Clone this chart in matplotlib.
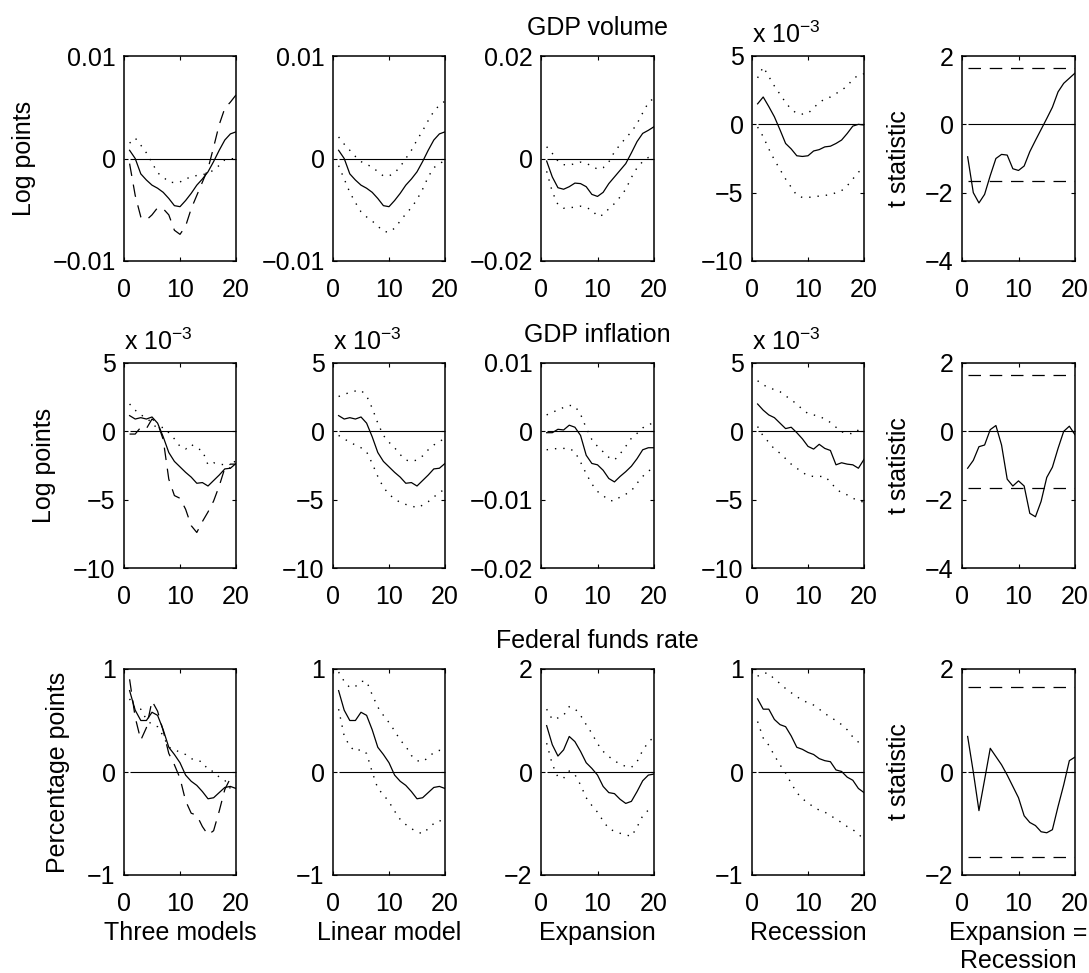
import numpy as np
import matplotlib
matplotlib.use('Agg')
import matplotlib.pyplot as plt
from matplotlib.ticker import FuncFormatter

plt.rcParams['font.family'] = ['Liberation Sans', 'DejaVu Sans']
plt.rcParams['mathtext.default'] = 'regular'
plt.rcParams['font.size'] = 18

horizon = np.arange(1, 21)
t_crit = 1.645

# GDP volume (log points)
vol_lin = [0.0008, 0.0000, -0.0015, -0.0021, -0.0026, -0.0029, -0.0033, -0.0039, -0.0046, -0.0047,
           -0.0041, -0.0034, -0.0026, -0.0020, -0.0013, -0.0003, 0.0008, 0.0018, 0.0024, 0.0026]
vol_lin_hi = [0.0021, 0.0014, 0.0008, 0.0002, -0.0003, -0.0006, -0.0008, -0.0013, -0.0017, -0.0017,
              -0.0014, -0.0008, 0.0000, 0.0008, 0.0018, 0.0027, 0.0037, 0.0046, 0.0052, 0.0056]
vol_lin_lo = [-0.0007, -0.0020, -0.0033, -0.0043, -0.0052, -0.0057, -0.0061, -0.0066, -0.0071, -0.0072,
              -0.0068, -0.0061, -0.0054, -0.0048, -0.0040, -0.0030, -0.0018, -0.0009, -0.0005, -0.0002]
vol_exp = [-0.0005, -0.0036, -0.0057, -0.0060, -0.0055, -0.0048, -0.0049, -0.0055, -0.0070, -0.0074,
           -0.0066, -0.0049, -0.0036, -0.0023, -0.0010, 0.0011, 0.0033, 0.0049, 0.0055, 0.0062]
vol_exp_hi = [0.0023, 0.0010, -0.0005, -0.0012, -0.0013, -0.0010, -0.0007, -0.0010, -0.0014, -0.0021,
              -0.0018, -0.0007, 0.0013, 0.0027, 0.0040, 0.0052, 0.0068, 0.0089, 0.0109, 0.0118]
vol_exp_lo = [-0.0025, -0.0065, -0.0090, -0.0097, -0.0096, -0.0095, -0.0093, -0.0096, -0.0100, -0.0113,
              -0.0110, -0.0098, -0.0088, -0.0075, -0.0060, -0.0037, -0.0018, -0.0006, 0.0002, 0.0007]
vol_rec = np.array([1.5, 2.0, 1.3, 0.55, -0.4, -1.4, -1.8, -2.3, -2.35, -2.3,
                    -1.95, -1.85, -1.65, -1.6, -1.4, -1.15, -0.67, -0.13, 0.0, -0.05]) * 1e-3
vol_rec_hi = np.array([3.4, 4.2, 3.5, 2.8, 2.2, 1.6, 1.1, 0.8, 0.75, 0.8,
                       1.2, 1.6, 1.85, 2.0, 2.25, 2.5, 2.8, 3.3, 3.6, 3.7]) * 1e-3
vol_rec_lo = np.array([-0.2, -0.9, -1.8, -2.6, -3.3, -4.0, -4.6, -5.2, -5.35, -5.35,
                       -5.3, -5.25, -5.2, -5.15, -5.0, -4.85, -4.5, -4.0, -3.5, -3.2]) * 1e-3
vol_t = [-0.95, -2.0, -2.3, -2.05, -1.5, -1.0, -0.88, -0.9, -1.3, -1.35,
         -1.22, -0.8, -0.47, -0.15, 0.17, 0.5, 0.95, 1.2, 1.35, 1.5]

# GDP inflation (log points)
inf_lin = np.array([1.15, 0.9, 1.0, 0.9, 1.05, 0.6, -0.4, -1.55, -2.2, -2.6,
                    -3.0, -3.35, -3.8, -3.75, -4.0, -3.6, -3.2, -2.75, -2.7, -2.35]) * 1e-3
inf_lin_hi = np.array([2.55, 2.7, 2.85, 2.95, 3.0, 2.6, 1.7, 0.6, -0.3, -0.8,
                       -1.2, -1.7, -2.1, -2.2, -2.1, -1.8, -1.35, -1.0, -0.75, -0.5]) * 1e-3
inf_lin_lo = np.array([-0.3, -0.55, -0.8, -1.0, -1.2, -1.5, -2.35, -3.3, -4.1, -4.6,
                       -4.95, -5.2, -5.35, -5.45, -5.6, -5.4, -5.15, -4.8, -4.5, -4.2]) * 1e-3
inf_exp = [-0.0002, -0.0002, 0.0003, 0.0002, 0.0009, 0.0006, -0.0006, -0.0035, -0.0047, -0.0049,
           -0.0057, -0.0069, -0.0074, -0.0066, -0.0059, -0.0051, -0.0040, -0.0027, -0.0024, -0.0024]
inf_exp_hi = [0.0024, 0.0028, 0.0031, 0.0035, 0.0038, 0.0037, 0.0025, 0.0005, -0.0012, -0.0022,
              -0.0030, -0.0038, -0.0042, -0.0033, -0.0022, -0.0010, -0.0003, 0.0005, 0.0010, 0.0012]
inf_exp_lo = [-0.0027, -0.0026, -0.0025, -0.0025, -0.0025, -0.0030, -0.0045, -0.0062, -0.0077, -0.0088,
              -0.0094, -0.0101, -0.0102, -0.0096, -0.0092, -0.0087, -0.0076, -0.0066, -0.0058, -0.0054]
inf_rec = np.array([2.0, 1.55, 1.2, 1.0, 0.6, 0.2, 0.3, -0.1, -0.55, -1.1,
                    -1.3, -0.95, -1.25, -1.4, -2.45, -2.3, -2.4, -2.45, -2.7, -2.05]) * 1e-3
inf_rec_hi = np.array([3.7, 3.4, 3.2, 3.05, 2.9, 2.6, 2.3, 2.0, 1.6, 1.3,
                       1.2, 1.1, 0.9, 0.65, 0.3, -0.05, -0.1, -0.2, 0.1, 0.3]) * 1e-3
inf_rec_lo = np.array([0.35, -0.35, -0.8, -1.3, -1.6, -2.0, -2.4, -2.7, -3.0, -3.25,
                       -3.3, -3.3, -3.3, -3.7, -4.2, -4.5, -4.65, -4.9, -5.05, -5.2]) * 1e-3
inf_t = [-1.08, -0.85, -0.45, -0.4, 0.05, 0.17, -0.4, -1.4, -1.6, -1.45,
         -1.6, -2.4, -2.5, -2.05, -1.35, -1.05, -0.5, 0.0, 0.15, -0.1]

# Federal funds rate (percentage points)
ffr_lin = [0.79, 0.6, 0.5, 0.5, 0.58, 0.55, 0.41, 0.24, 0.17, 0.09,
           -0.03, -0.09, -0.13, -0.19, -0.26, -0.25, -0.2, -0.15, -0.14, -0.16]
ffr_lin_hi = [0.97, 0.88, 0.82, 0.83, 0.88, 0.88, 0.75, 0.63, 0.55, 0.48,
              0.40, 0.31, 0.25, 0.16, 0.11, 0.10, 0.14, 0.19, 0.21, 0.20]
ffr_lin_lo = [0.61, 0.35, 0.25, 0.2, 0.22, 0.18, 0.0, -0.16, -0.22, -0.29,
              -0.38, -0.46, -0.51, -0.55, -0.58, -0.6, -0.55, -0.5, -0.47, -0.5]
ffr_exp = [0.9, 0.53, 0.31, 0.43, 0.69, 0.59, 0.4, 0.18, 0.07, -0.06,
           -0.28, -0.4, -0.42, -0.53, -0.61, -0.57, -0.38, -0.17, -0.06, -0.04]
ffr_exp_hi = [1.22, 1.02, 1.05, 1.1, 1.27, 1.23, 1.1, 0.92, 0.75, 0.55,
              0.4, 0.3, 0.22, 0.15, 0.11, 0.09, 0.2, 0.42, 0.58, 0.68]
ffr_exp_lo = [0.56, 0.15, -0.1, -0.12, 0.02, -0.05, -0.25, -0.5, -0.65, -0.78,
              -0.95, -1.1, -1.15, -1.19, -1.22, -1.25, -1.07, -0.85, -0.74, -0.7]
ffr_rec = [0.71, 0.61, 0.61, 0.51, 0.46, 0.44, 0.35, 0.24, 0.22, 0.19,
           0.17, 0.13, 0.11, 0.1, 0.02, 0.005, -0.05, -0.08, -0.16, -0.2]
ffr_rec_hi = [0.93, 0.96, 0.96, 0.9, 0.86, 0.81, 0.77, 0.73, 0.7, 0.67,
              0.65, 0.61, 0.57, 0.53, 0.5, 0.46, 0.41, 0.34, 0.29, 0.25]
ffr_rec_lo = [0.49, 0.33, 0.26, 0.16, 0.07, -0.01, -0.11, -0.2, -0.26, -0.3,
              -0.34, -0.37, -0.39, -0.42, -0.46, -0.49, -0.53, -0.56, -0.6, -0.66]
ffr_t = [0.69, 0.0, -0.75, -0.15, 0.46, 0.3, 0.14, -0.06, -0.28, -0.5,
         -0.85, -0.98, -1.04, -1.16, -1.18, -1.12, -0.67, -0.25, 0.22, 0.29]

row_titles = ['GDP volume', 'GDP inflation', 'Federal funds rate']
row_ylabels = ['Log points', 'Log points', 'Percentage points']
col_labels = ['Three models', 'Linear model', 'Expansion', 'Recession', 'Expansion =\nRecession']

rows = [
    (vol_lin, vol_lin_lo, vol_lin_hi, vol_exp, vol_exp_lo, vol_exp_hi, vol_rec, vol_rec_lo, vol_rec_hi, vol_t),
    (inf_lin, inf_lin_lo, inf_lin_hi, inf_exp, inf_exp_lo, inf_exp_hi, inf_rec, inf_rec_lo, inf_rec_hi, inf_t),
    (ffr_lin, ffr_lin_lo, ffr_lin_hi, ffr_exp, ffr_exp_lo, ffr_exp_hi, ffr_rec, ffr_rec_lo, ffr_rec_hi, ffr_t),
]

# axis setup per row: (ylim, yticks, scaled by 1e-3)
t1 = ((-0.01, 0.01), [-0.01, 0, 0.01], False)
t3 = ((-0.01, 0.005), [-0.01, -0.005, 0, 0.005], True)
axis_setup = [
    [t1, t1, ((-0.02, 0.02), [-0.02, 0, 0.02], False), t3, ((-4, 2), [-4, -2, 0, 2], False)],
    [t3, t3, ((-0.02, 0.01), [-0.02, -0.01, 0, 0.01], False), t3, ((-4, 2), [-4, -2, 0, 2], False)],
    [((-1, 1), [-1, 0, 1], False), ((-1, 1), [-1, 0, 1], False), ((-2, 2), [-2, 0, 2], False),
     ((-1, 1), [-1, 0, 1], False), ((-2, 2), [-2, 0, 2], False)],
]

W, H = 1089, 973
lefts = [124, 333, 541, 752, 962]
rights = [236, 445, 654, 864, 1075]
tops = [56, 363, 669]
bottoms = [261, 568, 875]

DOT = (0, (1, 5))
DASH = (0, (10, 7))


def tick_fmt(scale):
    return FuncFormatter(lambda v, p: ('%g' % round(v / scale, 8)).replace('-', '\u2212'))


fig = plt.figure(figsize=(W / 100, H / 100), dpi=100)

for r in range(3):
    lin, lin_lo, lin_hi, exp_, exp_lo, exp_hi, rec, rec_lo, rec_hi, tst = rows[r]
    for c in range(5):
        ax = fig.add_axes([lefts[c] / W, 1 - bottoms[r] / H,
                           (rights[c] - lefts[c]) / W, (bottoms[r] - tops[r]) / H])
        ylim, yticks, scaled = axis_setup[r][c]
        ax.hlines(0, horizon[0], horizon[-1], color='k', lw=0.8)
        if c == 0:
            ax.plot(horizon, lin, color='k', lw=0.9)
            ax.plot(horizon, exp_, color='k', lw=0.9, ls=DASH)
            ax.plot(horizon, rec, color='k', lw=1.0, ls=DOT)
        elif c in (1, 2, 3):
            pt, lo, hi = [(lin, lin_lo, lin_hi), (exp_, exp_lo, exp_hi), (rec, rec_lo, rec_hi)][c - 1]
            ax.plot(horizon, pt, color='k', lw=0.9)
            ax.plot(horizon, lo, color='k', lw=1.0, ls=DOT)
            ax.plot(horizon, hi, color='k', lw=1.0, ls=DOT)
        else:
            ax.hlines([t_crit, -t_crit], horizon[0], horizon[-1], color='k', lw=0.9, linestyles=[DASH])
            ax.plot(horizon, tst, color='k', lw=0.9)

        ax.set_xlim(0, 20)
        ax.set_xticks([0, 10, 20])
        ax.set_ylim(*ylim)
        ax.set_yticks(yticks)
        ax.yaxis.set_major_formatter(tick_fmt(1e-3 if scaled else 1))
        ax.xaxis.set_major_formatter(tick_fmt(1))
        ax.tick_params(direction='in', top=True, right=True, length=3, width=0.8,
                       labelsize=18)
        ax.tick_params(axis='y', pad=6)
        ax.tick_params(axis='x', pad=12)
        for s in ax.spines.values():
            s.set_linewidth(1.1)
        if scaled:
            ax.text(0, 1 + 13 / 205, 'x 10$^{\u22123}$', transform=ax.transAxes,
                    ha='left', va='baseline', fontsize=18)
        if c == 2:
            ax.set_title(row_titles[r], fontsize=18, pad=15)
        if c == 0:
            ax.set_ylabel(row_ylabels[r], fontsize=18, labelpad=12)
        if c == 4:
            ax.set_ylabel('t statistic', fontsize=18, labelpad=10)
        if r == 2:
            ax.set_xlabel(col_labels[c], fontsize=18, labelpad=4)

fig.savefig('out.png', dpi=100)
